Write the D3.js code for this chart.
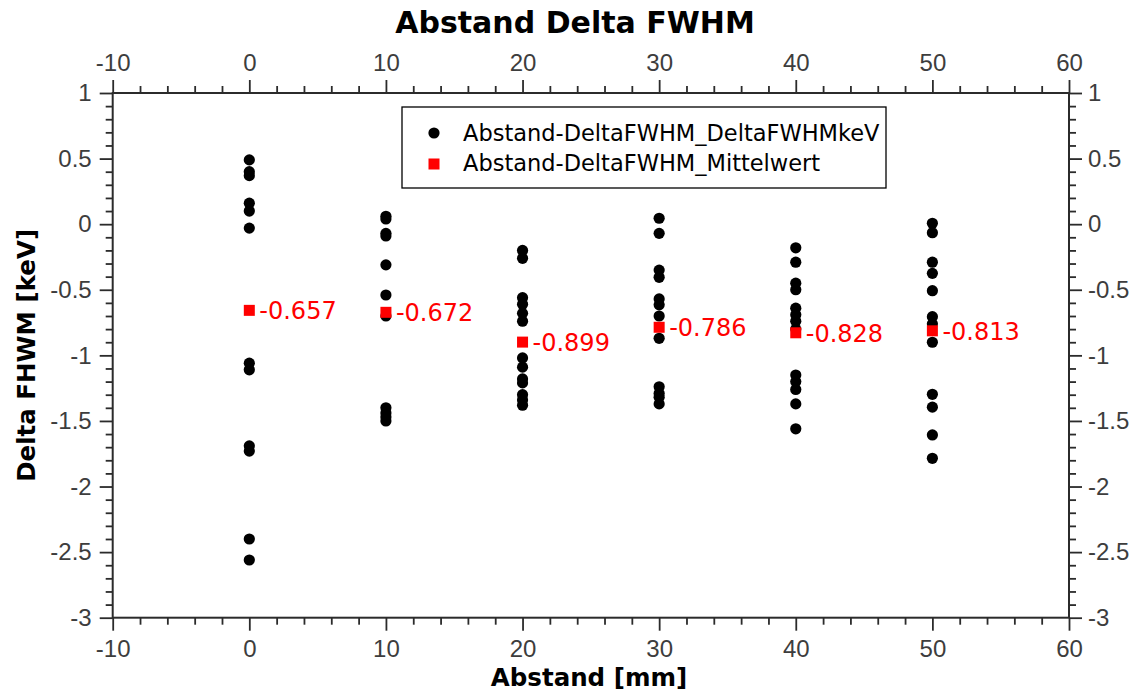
<!DOCTYPE html>
<html>
<head>
<meta charset="utf-8">
<script src="https://cdn.jsdelivr.net/npm/d3@7"></script>
<style>
  body { margin: 0; background: #fff; }
  svg { display: block; font-family: "DejaVu Sans", sans-serif; }
  .axis path { display: none; }
  .axis line { stroke: #2b2b2b; stroke-width: 1.8; }
  .axis text { fill: #3d3d3d; font-size: 24px; }
</style>
</head>
<body>
<script>
var abstand = [0, 10, 20, 30, 40, 50];

var deltaFwhm0 = [0.49, 0.40, 0.37, 0.16, 0.10, -0.03, -1.06, -1.11, -1.69, -1.73, -2.40, -2.56];
var deltaFwhm10 = [0.06, 0.04, -0.07, -0.09, -0.31, -0.54, -0.70, -1.40, -1.44, -1.47, -1.50];
var deltaFwhm20 = [-0.20, -0.26, -0.56, -0.61, -0.68, -0.74, -1.02, -1.09, -1.18, -1.21, -1.30, -1.34, -1.38];
var deltaFwhm30 = [0.045, -0.07, -0.35, -0.405, -0.57, -0.615, -0.70, -0.87, -1.24, -1.29, -1.32, -1.37];
var deltaFwhm40 = [-0.18, -0.29, -0.45, -0.50, -0.64, -0.69, -0.74, -0.80, -1.15, -1.20, -1.26, -1.37, -1.56];
var deltaFwhm50 = [0.007, -0.065, -0.29, -0.375, -0.507, -0.705, -0.76, -0.90, -1.297, -1.395, -1.607, -1.785];
var deltaFwhmSets = [deltaFwhm0, deltaFwhm10, deltaFwhm20, deltaFwhm30, deltaFwhm40, deltaFwhm50];

var mittelwert = [-0.657, -0.672, -0.899, -0.786, -0.828, -0.813];

var xMajorTicks = [-10, 0, 10, 20, 30, 40, 50, 60];
var yMajorTicks = [1, 0.5, 0, -0.5, -1, -1.5, -2, -2.5, -3];

var legendLabels = ['Abstand-DeltaFWHM_DeltaFWHMkeV', 'Abstand-DeltaFWHM_Mittelwert'];

var width = 1142;
var height = 691;
var margin = {left: 112.7, right: 73, top: 93, bottom: 73.3};

var x = d3.scaleLinear()
  .domain([-10, 60])
  .range([margin.left, width - margin.right]);
var y = d3.scaleLinear()
  .domain([-3, 1])
  .range([height - margin.bottom, margin.top]);

var xMinor = d3.range(-10, 60.001, 2).filter(function(v) { return Math.abs(v % 10) > 0.01; });
var yMinor = d3.range(-30, 10.001, 1).filter(function(v) { return Math.abs(v % 5) > 0.01; })
  .map(function(v) { return v / 10; });

var svg = d3.select('body').append('svg')
  .attr('width', width)
  .attr('height', height);

function fmt(v) { return String(v); }

function drawAxis(axisFn, scale, major, minor, pad, transform) {
  var g = svg.append('g').attr('class', 'axis').attr('transform', transform);
  g.append('g').call(axisFn(scale).tickValues(minor).tickSize(7).tickFormat(''));
  g.append('g').call(axisFn(scale).tickValues(major).tickSize(13).tickPadding(pad).tickFormat(fmt));
}

drawAxis(d3.axisBottom, x, xMajorTicks, xMinor, 9, 'translate(0,' + y(-3) + ')');
drawAxis(d3.axisTop, x, xMajorTicks, xMinor, 9, 'translate(0,' + y(1) + ')');
drawAxis(d3.axisLeft, y, yMajorTicks, yMinor, 8, 'translate(' + x(-10) + ',0)');
drawAxis(d3.axisRight, y, yMajorTicks, yMinor, 6, 'translate(' + x(60) + ',0)');

// frame
svg.append('rect')
  .attr('x', x(-10))
  .attr('y', y(1))
  .attr('width', x(60) - x(-10))
  .attr('height', y(-3) - y(1))
  .attr('fill', 'none')
  .attr('stroke', '#2b2b2b')
  .attr('stroke-width', 2);

// titles
svg.append('text')
  .attr('x', 575)
  .attr('y', 33)
  .attr('text-anchor', 'middle')
  .attr('font-weight', 'bold')
  .attr('font-size', 30)
  .attr('fill', '#000')
  .text('Abstand Delta FWHM');

svg.append('text')
  .attr('x', 589)
  .attr('y', 686)
  .attr('text-anchor', 'middle')
  .attr('font-weight', 'bold')
  .attr('font-size', 24.5)
  .attr('fill', '#000')
  .text('Abstand [mm]');

svg.append('text')
  .attr('transform', 'translate(35,' + ((y(1) + y(-3)) / 2) + ') rotate(-90)')
  .attr('text-anchor', 'middle')
  .attr('font-weight', 'bold')
  .attr('font-size', 24.5)
  .attr('fill', '#000')
  .text('Delta FHWM [keV]');

// single measurements
var points = [];
deltaFwhmSets.forEach(function(set, i) {
  set.forEach(function(v) { points.push({x: abstand[i], y: v}); });
});

svg.append('g').selectAll('circle')
  .data(points)
  .enter().append('circle')
    .attr('cx', function(d) { return x(d.x); })
    .attr('cy', function(d) { return y(d.y); })
    .attr('r', 5.6)
    .attr('fill', '#000');

// mean values
var means = abstand.map(function(a, i) { return {x: a, y: mittelwert[i]}; });

svg.append('g').selectAll('rect')
  .data(means)
  .enter().append('rect')
    .attr('x', function(d) { return x(d.x) - 5.5; })
    .attr('y', function(d) { return y(d.y) - 5.5; })
    .attr('width', 11)
    .attr('height', 11)
    .attr('fill', '#ff0000');

svg.append('g').selectAll('text')
  .data(means)
  .enter().append('text')
    .attr('x', function(d) { return x(d.x) + 10; })
    .attr('y', function(d) { return y(d.y); })
    .attr('dy', '0.38em')
    .attr('font-size', 24)
    .attr('fill', '#ff0000')
    .text(function(d) { return d.y.toFixed(3); });

// legend
var legend = svg.append('g');
legend.append('rect')
  .attr('x', 402)
  .attr('y', 107)
  .attr('width', 484)
  .attr('height', 81)
  .attr('fill', '#fff')
  .attr('stroke', '#000')
  .attr('stroke-width', 1.3);

legend.append('circle')
  .attr('cx', 434)
  .attr('cy', 133)
  .attr('r', 5.6)
  .attr('fill', '#000');
legend.append('rect')
  .attr('x', 434 - 5.5)
  .attr('y', 164 - 5.5)
  .attr('width', 11)
  .attr('height', 11)
  .attr('fill', '#ff0000');

legend.selectAll('text')
  .data(legendLabels)
  .enter().append('text')
    .attr('x', 463)
    .attr('y', function(d, i) { return 141 + i * 30; })
    .attr('font-size', 22.5)
    .attr('fill', '#000')
    .text(function(d) { return d; });
</script>
</body>
</html>
